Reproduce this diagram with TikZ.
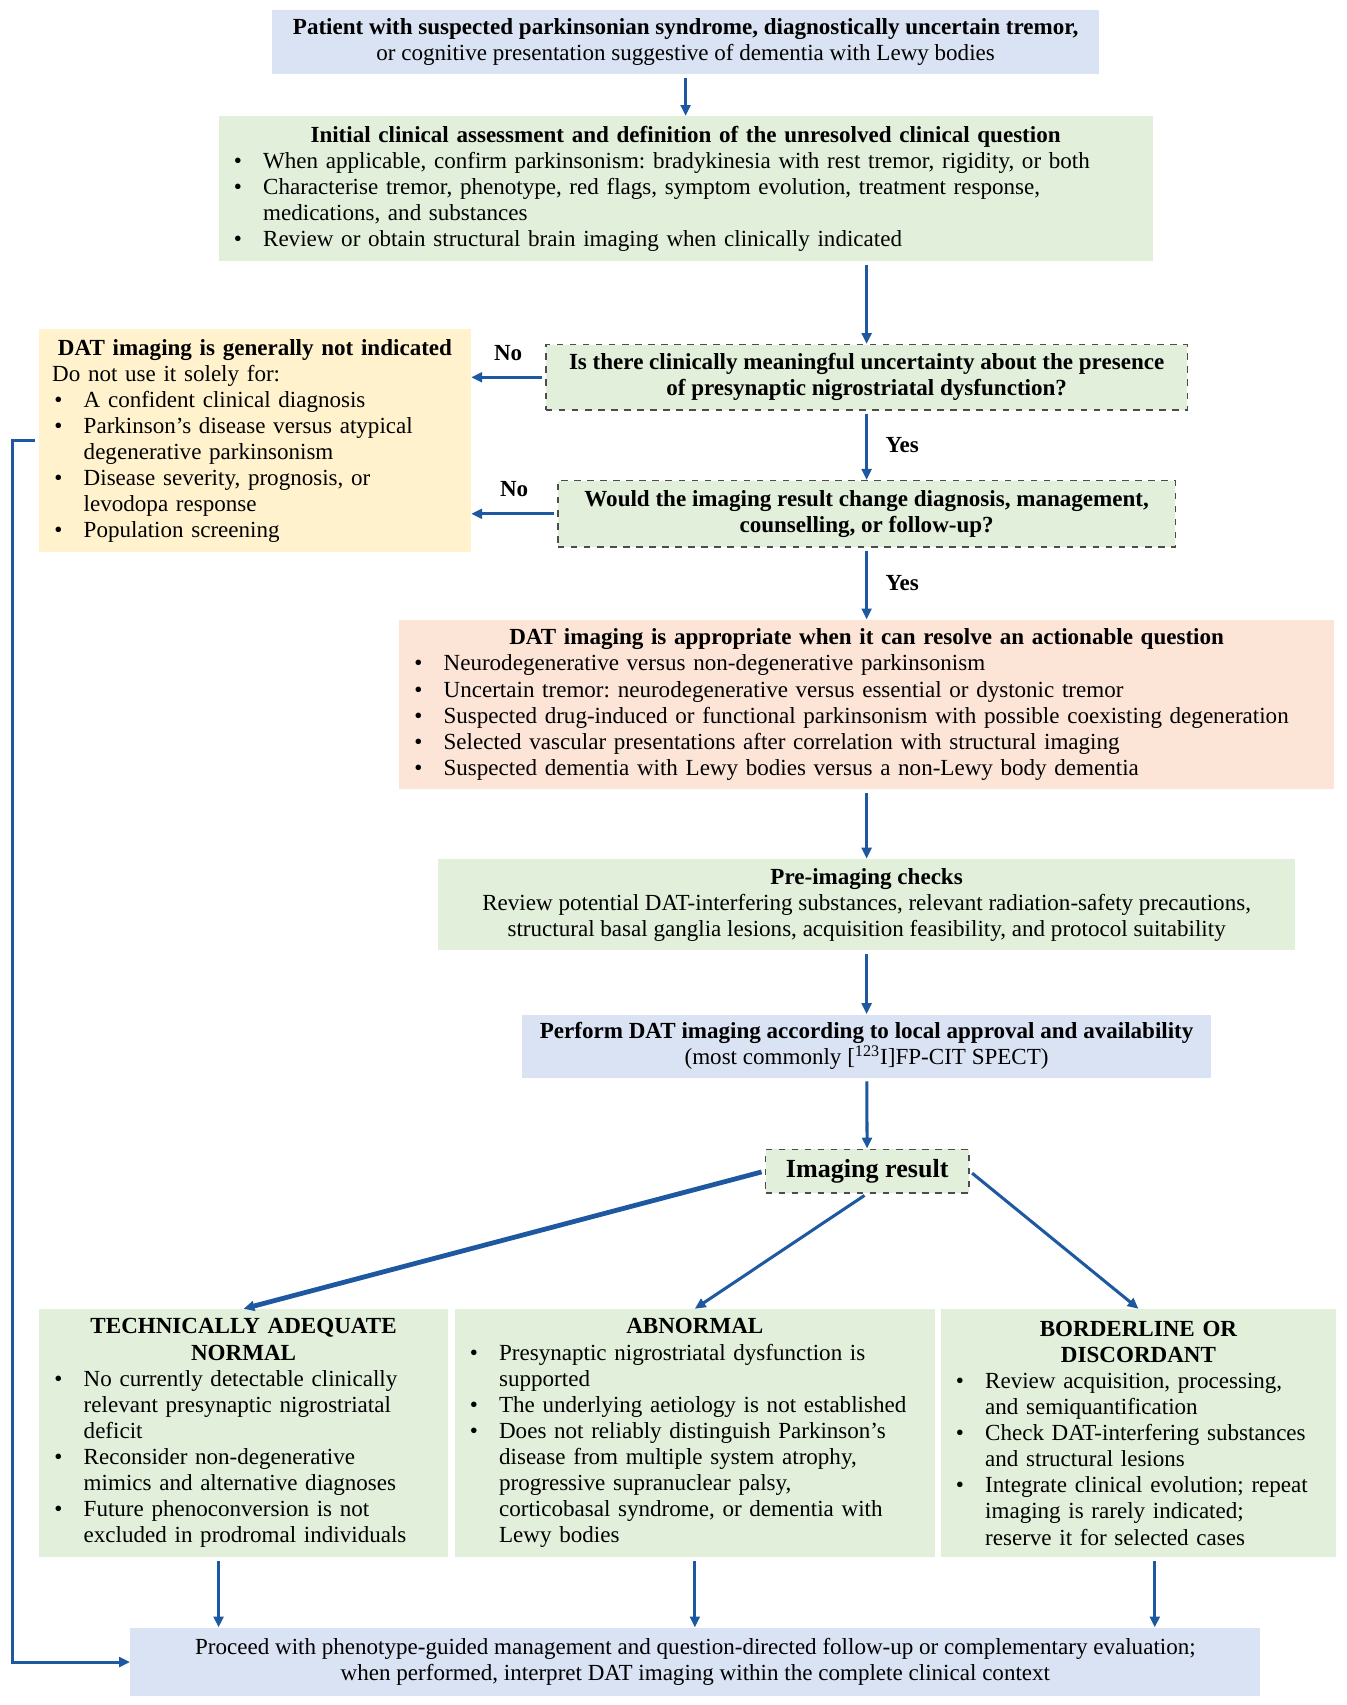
\documentclass[tikz,border=0pt]{standalone}
\usepackage{fontspec}
\setmainfont{Liberation Serif}
\usetikzlibrary{arrows.meta}
\setlength{\parindent}{0pt}
\frenchspacing

\definecolor{boxblue}{HTML}{DAE3F3}
\definecolor{boxgreen}{HTML}{E2EFDA}
\definecolor{boxorange}{HTML}{FFF2CC}
\definecolor{boxpeach}{HTML}{FCE4D6}
\definecolor{arrblue}{RGB}{30,88,160}

% Aufzaehlungspunkt mit haengendem Einzug
\newcommand{\bpunkt}{\par\hangindent=14.5pt\hangafter=1\noindent\makebox[14.5pt][l]{\hspace{1pt}\textbullet}}

\tikzset{
  kasten/.style={fill=#1, inner xsep=6pt, inner ysep=3pt, font=\fontsize{10.6}{12}\selectfont},
  frage/.style={kasten=boxgreen, draw=black!70, dashed, line width=0.7pt, align=center,
    font=\bfseries\fontsize{10.6}{12}\selectfont},
  pfeil/.style={-{Triangle[length=5pt,width=4.5pt]}, draw=arrblue, line width=1.4pt, shorten <=1.5pt},
  marke/.style={font=\bfseries\fontsize{10.6}{12}\selectfont, inner sep=2pt},
}

\begin{document}
\begin{tikzpicture}[x=0.5pt,y=-0.5pt]
  \useasboundingbox (0,0) rectangle (1238,1568);

  % Einstieg und klinische Beurteilung
  \node[kasten=boxblue, minimum width=380.5pt, minimum height=29.5pt, align=center] (start) at (630.5,38.5)
    {\textbf{Patient with suspected parkinsonian syndrome, diagnostically uncertain tremor,}\\
     or cognitive presentation suggestive of dementia with Lewy bodies};
  \node[kasten=boxgreen, text width=417.5pt, minimum height=66.5pt, align=left] (klinik) at (630.5,173.5)
    {{\centering\bfseries Initial clinical assessment and definition of the unresolved clinical question\par}
     \bpunkt When applicable, confirm parkinsonism: bradykinesia with rest tremor, rigidity, or both
     \bpunkt Characterise tremor, phenotype, red flags, symptom evolution, treatment response,\newline medications, and substances
     \bpunkt Review or obtain structural brain imaging when clinically indicated\par};

  % Fragen
  \node[frage, minimum width=295pt, minimum height=30pt] (frage1) at (797,347)
    {Is there clinically meaningful uncertainty about the presence\\of presynaptic nigrostriatal dysfunction?};
  \node[frage, minimum width=284pt, minimum height=30.5pt] (frage2) at (797,472.5)
    {Would the imaging result change diagnosis, management,\\counselling, or follow-up?};
  \node[kasten=boxorange, text width=186.5pt, minimum height=102.5pt, align=left] (nicht) at (234.5,405.5)
    {{\centering\bfseries DAT imaging is generally not indicated\par}
     Do not use it solely for:
     \bpunkt A confident clinical diagnosis
     \bpunkt Parkinson’s disease versus atypical\newline degenerative parkinsonism
     \bpunkt Disease severity, prognosis, or\newline levodopa response
     \bpunkt Population screening\par};

  % Indikation, Vorbereitung, Durchfuehrung
  \node[kasten=boxpeach, text width=418pt, minimum height=78pt, align=left] (indik) at (797,648)
    {{\centering\bfseries DAT imaging is appropriate when it can resolve an actionable question\par}
     \bpunkt Neurodegenerative versus non-degenerative parkinsonism
     \bpunkt Uncertain tremor: neurodegenerative versus essential or dystonic tremor
     \bpunkt Suspected drug-induced or functional parkinsonism with possible coexisting degeneration
     \bpunkt Selected vascular presentations after correlation with structural imaging
     \bpunkt Suspected dementia with Lewy bodies versus a non-Lewy body dementia\par};
  \node[kasten=boxgreen, minimum width=394pt, minimum height=42pt, align=center] (check) at (797,832)
    {\textbf{Pre-imaging checks}\\
     Review potential DAT-interfering substances, relevant radiation-safety precautions,\\
     structural basal ganglia lesions, acquisition feasibility, and protocol suitability};
  \node[kasten=boxblue, minimum width=317pt, minimum height=29pt, align=center] (scan) at (797,962)
    {\textbf{Perform DAT imaging according to local approval and availability}\\
     (most commonly [\textsuperscript{123}I]FP-CIT SPECT)};
  \node[frage, minimum width=93.5pt, minimum height=20pt, font=\bfseries\fontsize{12}{14}\selectfont] (befund) at (797.5,1077)
    {Imaging result};

  % Ergebnisse
  \node[kasten=boxgreen, text width=176pt, minimum height=114pt, align=left] (normal) at (224,1318)
    {{\centering\bfseries TECHNICALLY ADEQUATE\\NORMAL\par}
     \bpunkt No currently detectable clinically\newline relevant presynaptic nigrostriatal\newline deficit
     \bpunkt Reconsider non-degenerative\newline mimics and alternative diagnoses
     \bpunkt Future phenoconversion is not\newline excluded in prodromal individuals\par};
  \node[kasten=boxgreen, text width=209pt, minimum height=114pt, align=left] (abnorm) at (639,1318)
    {{\centering\bfseries ABNORMAL\par}
     \bpunkt Presynaptic nigrostriatal dysfunction is\newline supported
     \bpunkt The underlying aetiology is not established
     \bpunkt Does not reliably distinguish Parkinson’s\newline disease from multiple system atrophy,\newline progressive supranuclear palsy,\newline corticobasal syndrome, or dementia with\newline Lewy bodies\par};
  \node[kasten=boxgreen, text width=170pt, minimum height=114pt, align=left] (grenz) at (1047,1318)
    {{\centering\bfseries BORDERLINE OR\\DISCORDANT\par}
     \bpunkt Review acquisition, processing,\newline and semiquantification
     \bpunkt Check DAT-interfering substances\newline and structural lesions
     \bpunkt Integrate clinical evolution; repeat\newline imaging is rarely indicated;\newline reserve it for selected cases\par};
  \node[kasten=boxblue, minimum width=519.5pt, minimum height=31.5pt, align=center] (ende) at (639.5,1528.5)
    {Proceed with phenotype-guided management and question-directed follow-up or complementary evaluation;\\
     when performed, interpret DAT imaging within the complete clinical context};

  % Verbindungen
  \draw[pfeil] (start) -- (klinik);
  \draw[pfeil] (klinik.south -| frage1.north) -- (frage1.north);
  \draw[pfeil] (frage1.west) -- (frage1.west -| nicht.east) node[marke, midway, above=5pt] {No};
  \draw[pfeil] (frage1) -- (frage2) node[marke, midway, right=6pt] {Yes};
  \draw[pfeil] (frage2.west) -- (frage2.west -| nicht.east) node[marke, midway, above=5pt] {No};
  \draw[pfeil] (frage2) -- (indik) node[marke, midway, right=6pt] {Yes};
  \draw[pfeil] (indik) -- (check);
  \draw[pfeil] (check) -- (scan);
  \draw[pfeil] (scan) -- (befund);
  \draw[pfeil, line width=2.2pt] (befund.west) -- (normal.north);
  \draw[pfeil] (befund.south) -- (abnorm.north);
  \draw[pfeil] (befund.east) -- (grenz.north);

  \coordinate (aus1) at ([xshift=-11.5pt]normal.south);
  \coordinate (aus3) at ([xshift=7.5pt]grenz.south);
  \draw[pfeil] (aus1) -- (aus1 |- ende.north);
  \draw[pfeil] (abnorm.south) -- (abnorm.south |- ende.north);
  \draw[pfeil] (aus3) -- (aus3 |- ende.north);

  % Ruecksprung
  \draw[pfeil] (nicht.west) -- ++(-24,0) |- (ende.west);
\end{tikzpicture}
\end{document}
